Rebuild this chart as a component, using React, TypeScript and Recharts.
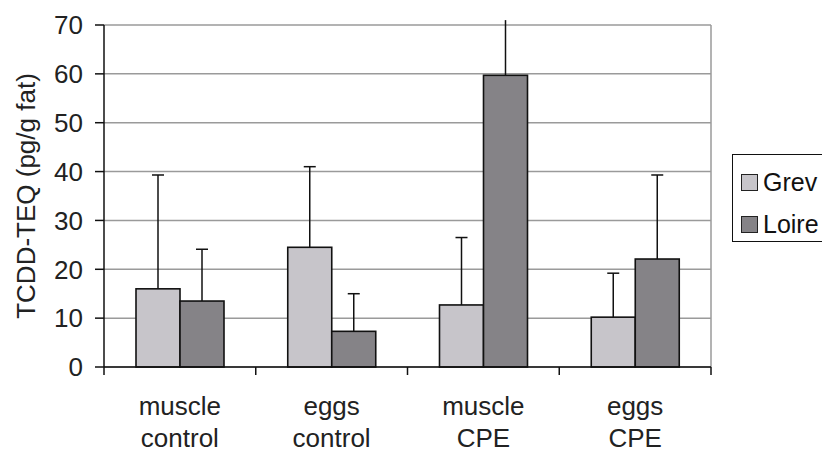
import { BarChart, Bar, XAxis, YAxis, CartesianGrid, Legend } from 'recharts'

const categories = ['muscle\ncontrol', 'eggs\ncontrol', 'muscle\nCPE', 'eggs\nCPE']
const grev = [16, 24.5, 12.7, 10.2]
const grevSd = [23.3, 16.5, 13.8, 9]
const loire = [13.5, 7.3, 59.7, 22.1]
const loireSd = [10.6, 7.7, 11.3, 17.2]
const yTicks = [0, 10, 20, 30, 40, 50, 60, 70]
const Y_MAX = 70

const W = 822
const H = 453
const LEFT = 104
const RIGHT = 111
const BAND = (W - LEFT - RIGHT) / categories.length
const FONT = '"Liberation Sans", Arial, sans-serif'
const FS = 26

const data = categories.map((c, i) => ({
  name: c,
  grev: grev[i],
  grevSd: grevSd[i],
  loire: loire[i],
  loireSd: loireSd[i],
}))

// bar plus an upward-only error bar, scaled from the bar's own height
function barWithError(valueKey: string, sdKey: string) {
  // eslint-disable-next-line @typescript-eslint/no-explicit-any
  return (props: any) => {
    const { x, y, width, height, fill, payload } = props
    const v = payload[valueKey]
    const k = v ? height / v : 0
    const topVal = v + payload[sdKey]
    const yTop = y + height - topVal * k
    const cx = x + width / 2
    return (
      <g>
        <rect x={x} y={y} width={width} height={height} fill={fill} stroke="#111" strokeWidth={1.6} />
        <line x1={cx} x2={cx} y1={y} y2={yTop} stroke="#111" strokeWidth={1.5} />
        {topVal <= Y_MAX && (
          <line x1={cx - 6} x2={cx + 6} y1={yTop} y2={yTop} stroke="#111" strokeWidth={1.5} />
        )}
      </g>
    )
  }
}

// eslint-disable-next-line @typescript-eslint/no-explicit-any
function XTick({ x, y, payload, index }: any) {
  const lines = String(payload.value).split('\n')
  const half = BAND / 2
  return (
    <g>
      <line x1={x - half} x2={x - half} y1={y} y2={y + 8} stroke="#111" strokeWidth={1.5} />
      {index === categories.length - 1 && (
        <line x1={x + half} x2={x + half} y1={y} y2={y + 8} stroke="#111" strokeWidth={1.5} />
      )}
      {lines.map((l, i) => (
        <text
          key={i}
          x={x}
          y={y + 48 + i * 32}
          textAnchor="middle"
          fontSize={FS}
          fontFamily={FONT}
          fill="#222"
        >
          {l}
        </text>
      ))}
    </g>
  )
}

// eslint-disable-next-line @typescript-eslint/no-explicit-any
function YLabel({ viewBox }: any) {
  const cy = viewBox.y + viewBox.height / 2
  return (
    <text
      transform={`translate(26,${cy}) rotate(-90)`}
      textAnchor="middle"
      dominantBaseline="central"
      fontSize={FS}
      fontFamily={FONT}
      fill="#222"
    >
      TCDD-TEQ (pg/g fat)
    </text>
  )
}

const legendItems = [
  { label: 'Grev', color: '#c7c5ca', top: 15 },
  { label: 'Loire', color: '#858387', top: 57 },
]

function LegendBox() {
  return (
    <div
      style={{
        position: 'relative',
        width: 100,
        height: 88,
        border: '1.5px solid #111',
        boxSizing: 'border-box',
        background: '#fff',
        fontFamily: FONT,
      }}
    >
      {legendItems.map((it) => (
        <div
          key={it.label}
          style={{
            position: 'absolute',
            left: 8,
            top: it.top,
            display: 'flex',
            alignItems: 'center',
            height: 24,
          }}
        >
          <span
            style={{
              display: 'inline-block',
              width: 17,
              height: 17,
              boxSizing: 'border-box',
              border: '1.5px solid #222',
              background: it.color,
              marginRight: 5,
            }}
          />
          <span style={{ fontSize: 25, color: '#111', lineHeight: '24px' }}>{it.label}</span>
        </div>
      ))}
    </div>
  )
}

export default function App() {
  return (
    <div style={{ position: 'absolute', left: 0, top: 0, width: W, height: H, overflow: 'hidden', background: '#fff' }}>
      <BarChart
        width={W}
        height={H}
        data={data}
        margin={{ top: 25, right: RIGHT, left: 0, bottom: 0 }}
        barGap={0}
      >
        <CartesianGrid
          stroke="#9a9a9a"
          strokeWidth={1.5}
          verticalCoordinatesGenerator={({ offset }: any) => [offset.left + offset.width]}
        />
        <XAxis
          dataKey="name"
          height={86}
          interval={0}
          tickSize={0}
          tickMargin={0}
          tickLine={false}
          axisLine={{ stroke: '#111', strokeWidth: 1.5 }}
          tick={<XTick />}
        />
        <YAxis
          width={LEFT}
          domain={[0, Y_MAX]}
          ticks={yTicks}
          interval={0}
          tickSize={9}
          tickMargin={12}
          axisLine={{ stroke: '#111', strokeWidth: 1.5 }}
          tickLine={{ stroke: '#111', strokeWidth: 1.5 }}
          tick={{ fontSize: FS, fill: '#222', fontFamily: FONT }}
          label={<YLabel />}
        />
        <Legend
          layout="vertical"
          align="center"
          verticalAlign="middle"
          content={<LegendBox />}
          wrapperStyle={{ left: 732, top: 154, width: 100, height: 88 }}
        />
        <Bar
          dataKey="grev"
          name="Grev"
          fill="#c7c5ca"
          barSize={44}
          isAnimationActive={false}
          shape={barWithError('grev', 'grevSd')}
        />
        <Bar
          dataKey="loire"
          name="Loire"
          fill="#858387"
          barSize={44}
          isAnimationActive={false}
          shape={barWithError('loire', 'loireSd')}
        />
      </BarChart>
    </div>
  )
}
